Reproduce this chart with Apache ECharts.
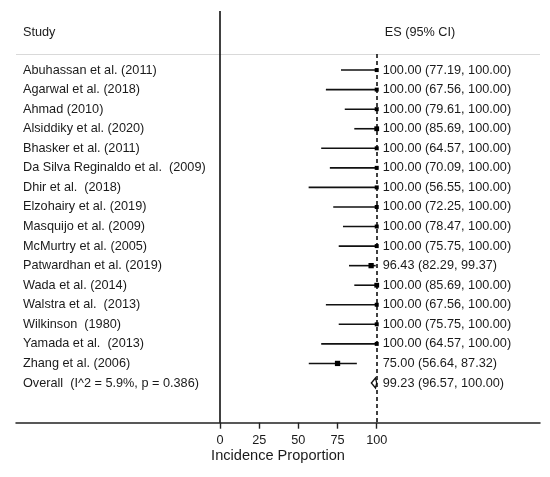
<!DOCTYPE html>
<html>
<head>
<meta charset="utf-8">
<script src="https://cdn.jsdelivr.net/npm/echarts@6/dist/echarts.min.js"></script>
<style>html,body{margin:0;padding:0;background:#fff}#c{width:550px;height:477px}</style>
</head>
<body>
<div id="c"></div>
<script>
const studies = [
  "Abuhassan et al. (2011)",
  "Agarwal et al. (2018)",
  "Ahmad (2010)",
  "Alsiddiky et al. (2020)",
  "Bhasker et al. (2011)",
  "Da Silva Reginaldo et al.  (2009)",
  "Dhir et al.  (2018)",
  "Elzohairy et al. (2019)",
  "Masquijo et al. (2009)",
  "McMurtry et al. (2005)",
  "Patwardhan et al. (2019)",
  "Wada et al. (2014)",
  "Walstra et al.  (2013)",
  "Wilkinson  (1980)",
  "Yamada et al.  (2013)",
  "Zhang et al. (2006)"
];
const es = [100, 100, 100, 100, 100, 100, 100, 100, 100, 100, 96.43, 100, 100, 100, 100, 75.00];
const lo = [77.19, 67.56, 79.61, 85.69, 64.57, 70.09, 56.55, 72.25, 78.47, 75.75, 82.29, 85.69, 67.56, 75.75, 64.57, 56.64];
const hi = [100, 100, 100, 100, 100, 100, 100, 100, 100, 100, 99.37, 100, 100, 100, 100, 87.32];
const sampleN = [13, 8, 15, 23, 7, 9, 5, 10, 14, 12, 28, 23, 8, 12, 7, 28];
const overallLabel = ["Overall  (I^2 = 5.9%, p = 0.386)"];
const overallVals = [99.23, 96.57, 100];
const xTicks = [0, 25, 50, 75, 100];
const headers = ["Study", "ES (95% CI)"];
const axisTitle = "Incidence Proportion";
const nullValue = 100;

const FONT = "'Liberation Sans', Arial, Helvetica, sans-serif";
const TXT = '#1a1a1a';
const XMIN = -130.2, XMAX = 204.2, YMIN = -3.02, YMAX = 18.03;
const HEADER_ROW = -1.94, HEADER_LINE = -0.82;
const fmt = v => v.toFixed(2);

const chart = echarts.init(document.getElementById('c'), null, {renderer: 'canvas'});

const studyData = studies.map((s, i) => [i, es[i], lo[i], hi[i], sampleN[i]]);

const option = {
  animation: false,
  backgroundColor: '#fff',
  grid: {left: 16, right: 10, top: 11, bottom: 54.3, containLabel: false, outerBoundsMode: 'none'},
  xAxis: {
    type: 'value', min: XMIN, max: XMAX,
    splitLine: {show: false},
    axisLine: {show: true, onZero: false, lineStyle: {color: '#222', width: 1.5}},
    axisTick: {show: true, length: 6, customValues: xTicks, lineStyle: {color: '#222', width: 1.4}},
    axisLabel: {customValues: xTicks, margin: 11, fontSize: 12.7, color: TXT, fontFamily: FONT},
    name: axisTitle, nameLocation: 'middle', nameGap: 26, nameMoveOverlap: false,
    nameTextStyle: {fontSize: 14.6, color: TXT, fontFamily: FONT}
  },
  yAxis: {type: 'value', min: YMIN, max: YMAX, inverse: true, show: false},
  series: [
    {
      type: 'line',
      data: [],
      z: 1,
      silent: true,
      markLine: {
        silent: true, symbol: ['none', 'none'], label: {show: false},
        animation: false, z: 1,
        data: [
          [{coord: [XMIN, HEADER_LINE], lineStyle: {color: '#d9d9d9', width: 1.2, type: 'solid'}}, {coord: [XMAX, HEADER_LINE]}],
          [{coord: [0, YMIN], lineStyle: {color: '#111', width: 1.6, type: 'solid'}}, {coord: [0, YMAX]}],
          [{coord: [nullValue, HEADER_LINE], lineStyle: {color: '#111', width: 1.6, type: [4, 3]}}, {coord: [nullValue, YMAX]}]
        ]
      }
    },
    {
      type: 'custom',
      silent: true,
      z: 5,
      data: studyData,
      encode: {x: [1, 2, 3], y: 0},
      renderItem: function (params, api) {
        const row = api.value(0);
        const pE = api.coord([api.value(1), row]);
        const pL = api.coord([api.value(2), row]);
        const pH = api.coord([api.value(3), row]);
        const pN = api.coord([nullValue, row]);
        const left = params.coordSys.x;
        const s = Math.max(4, 1.0 * Math.sqrt(api.value(4)));
        const i = params.dataIndex;
        return {
          type: 'group',
          children: [
            {type: 'line', shape: {x1: pL[0], y1: pE[1], x2: pH[0], y2: pE[1]}, style: {stroke: '#111', lineWidth: 1.6}},
            {type: 'rect', shape: {x: pE[0] - s / 2, y: pE[1] - s / 2, width: s, height: s}, style: {fill: '#000'}},
            {type: 'text', x: left + 7, y: pE[1], style: {text: studies[i], fill: TXT, font: '12.7px ' + FONT, verticalAlign: 'middle', align: 'left'}},
            {type: 'text', x: pN[0] + 6, y: pE[1], style: {text: fmt(es[i]) + ' (' + fmt(lo[i]) + ', ' + fmt(hi[i]) + ')', fill: TXT, font: '12.7px ' + FONT, verticalAlign: 'middle', align: 'left'}}
          ]
        };
      }
    },
    {
      type: 'custom',
      silent: true,
      z: 5,
      data: [[studies.length, overallVals[0], overallVals[1], overallVals[2]]],
      encode: {x: [1, 2, 3], y: 0},
      renderItem: function (params, api) {
        const row = api.value(0);
        const pE = api.coord([api.value(1), row]);
        const pL = api.coord([api.value(2), row]);
        const pH = api.coord([api.value(3), row]);
        const pN = api.coord([nullValue, row]);
        const left = params.coordSys.x;
        const h = 5;
        return {
          type: 'group',
          children: [
            {type: 'polygon', shape: {points: [[pL[0], pE[1]], [pE[0], pE[1] - h], [pH[0], pE[1]], [pE[0], pE[1] + h]]}, style: {fill: '#fff', stroke: '#111', lineWidth: 1.3}},
            {type: 'text', x: left + 7, y: pE[1], style: {text: overallLabel[0], fill: TXT, font: '12.7px ' + FONT, verticalAlign: 'middle', align: 'left'}},
            {type: 'text', x: pN[0] + 6, y: pE[1], style: {text: fmt(overallVals[0]) + ' (' + fmt(overallVals[1]) + ', ' + fmt(overallVals[2]) + ')', fill: TXT, font: '12.7px ' + FONT, verticalAlign: 'middle', align: 'left'}}
          ]
        };
      }
    },
    {
      type: 'custom',
      silent: true,
      z: 5,
      data: [[HEADER_ROW]],
      encode: {y: 0},
      renderItem: function (params, api) {
        const left = params.coordSys.x;
        const p = api.coord([nullValue, HEADER_ROW]);
        return {
          type: 'group',
          children: [
            {type: 'text', x: left + 7, y: p[1], style: {text: headers[0], fill: TXT, font: '12.7px ' + FONT, verticalAlign: 'middle', align: 'left'}},
            {type: 'text', x: p[0] + 8, y: p[1], style: {text: headers[1], fill: TXT, font: '12.7px ' + FONT, verticalAlign: 'middle', align: 'left'}}
          ]
        };
      }
    }
  ]
};
chart.setOption(option);
</script>
</body>
</html>
